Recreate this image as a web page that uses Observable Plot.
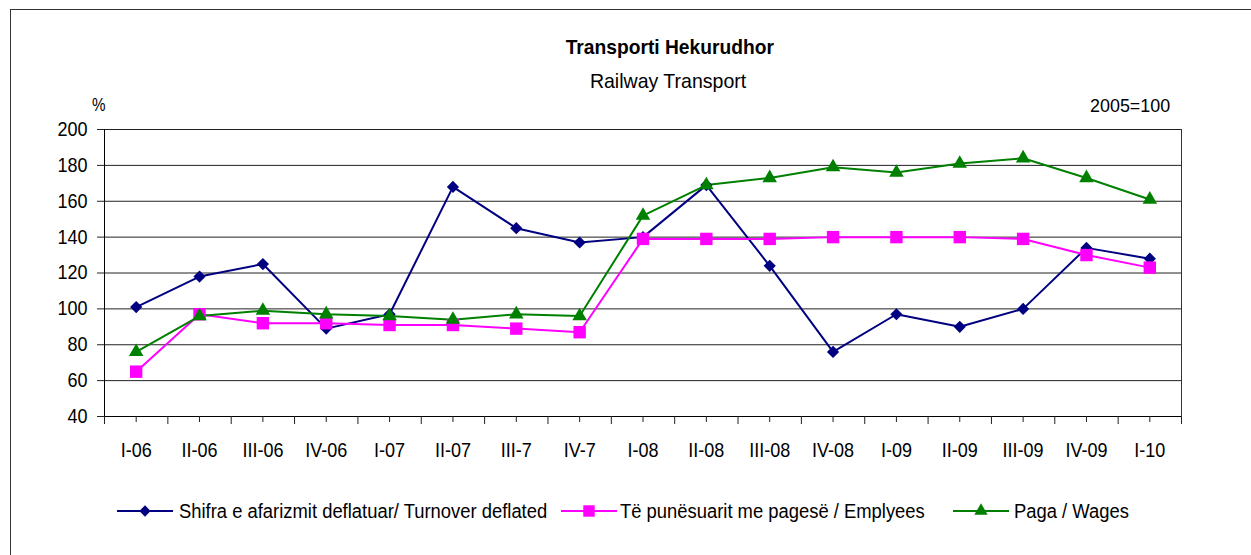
<!DOCTYPE html>
<html><head><meta charset="utf-8">
<script src="https://cdn.jsdelivr.net/npm/d3@7"></script>
<script src="https://cdn.jsdelivr.net/npm/@observablehq/plot@0.6"></script>
<style>
html,body{margin:0;padding:0;background:#fff;}
#wrap{position:relative;width:1251px;height:555px;overflow:hidden;background:#fff;color:#000;
  font-family:"Liberation Sans",Arial,sans-serif;}
#frame{position:absolute;left:10px;top:9px;right:-5px;bottom:-5px;border-top:1px solid #333;border-left:1px solid #333;}
.t{position:absolute;white-space:nowrap;line-height:1;}
.t span{display:inline-block;}
#chart{position:absolute;left:0;top:95px;}
.sw{position:absolute;top:500px;}
.lt{position:absolute;top:500px;height:22px;line-height:22px;font-size:20px;white-space:nowrap;transform:scaleX(0.92);transform-origin:left center;}
</style></head>
<body>
<div id="wrap">
  <div id="frame"></div>
  <div class="t" style="left:0;width:1339px;text-align:center;top:36px;font-size:21px;font-weight:bold;"><span style="transform:scaleX(0.915);">Transporti Hekurudhor</span></div>
  <div class="t" style="left:0;width:1336px;text-align:center;top:70px;font-size:21px;"><span style="transform:scaleX(0.93);">Railway Transport</span></div>
  <div class="t" style="left:92px;top:95px;font-size:19px;"><span style="transform:scaleX(0.8);transform-origin:left center;">%</span></div>
  <div class="t" style="right:81px;top:96px;font-size:19px;"><span style="transform:scaleX(0.94);transform-origin:right center;">2005=100</span></div>
  <div id="chart"></div>
  <div id="legend"></div>
</div>
<script>
const categories = ["I-06","II-06","III-06","IV-06","I-07","II-07","III-7","IV-7","I-08","II-08","III-08","IV-08","I-09","II-09","III-09","IV-09","I-10"];
const seriesNames = ["Shifra e afarizmit deflatuar/ Turnover deflated","Të punësuarit me pagesë / Emplyees","Paga / Wages"];
const turnover  = [101,118,125,89,97,168,145,137,140,169,124,76,97,90,100,134,128];
const employees = [65,97,92,92,91,91,89,87,139,139,139,140,140,140,139,130,123];
const wages     = [76,96,99,97,96,94,97,96,152,169,173,179,176,181,184,173,161];
const yTicks = [40,60,80,100,120,140,160,180,200];

const seriesValues = [turnover, employees, wages];
const colors = ["#000080","#ff00ff","#008000"];
const symbols = ["diamond2","square","triangle"];
const radii = [5.5, 7, 5.4];
const d3sym = {diamond2: d3.symbolDiamond2, square: d3.symbolSquare, triangle: d3.symbolTriangle};

const rows = [];
seriesNames.forEach((s,k) => seriesValues[k].forEach((v,i) => rows.push({series:s, i, value:v})));
const idx = d3.range(categories.length);
const bounds = d3.range(categories.length + 1).map(i => i - 0.5);
const font = '"Liberation Sans",Arial,sans-serif';

const chart = Plot.plot({
  width: 1251, height: 395,
  marginLeft: 104, marginRight: 70, marginTop: 34, marginBottom: 74,
  style: {fontFamily: font, fontSize: "20px", color: "#000", background: "transparent", overflow: "visible"},
  x: {type: "linear", domain: [-0.5, categories.length - 0.5]},
  y: {domain: [40, 200]},
  marks: [
    Plot.gridY(yTicks, {stroke: "#222", strokeOpacity: 1}),
    Plot.axisY(yTicks, {tickSize: 7, tickPadding: 10, stroke: "#222", label: null}),
    Plot.ruleX([-0.5], {stroke: "#000"}),
    Plot.ruleX([categories.length - 0.5], {stroke: "#333"}),
    Plot.ruleY([40], {stroke: "#000"}),
    Plot.axisX(bounds, {tickSize: 8, tickFormat: () => "", label: null, stroke: "#222"}),
    Plot.axisX(idx, {tickSize: 6, tickPadding: 20, tickFormat: i => categories[i], label: null, stroke: "#222"}),
    ...seriesNames.map((s,k) => Plot.line(rows.filter(d => d.series === s), {x: "i", y: "value", stroke: colors[k], strokeWidth: 2})),
    ...seriesNames.map((s,k) => Plot.dot(rows.filter(d => d.series === s), {x: "i", y: "value", symbol: symbols[k], fill: colors[k], stroke: "none", r: radii[k]}))
  ]
});
document.getElementById("chart").appendChild(chart);
// condense axis labels (narrow Arial look of the original)
chart.querySelectorAll("text").forEach(t => {
  const len = t.getComputedTextLength();
  if (len > 0) {
    t.setAttribute("textLength", (len * 0.9).toFixed(2));
    t.setAttribute("lengthAdjust", "spacingAndGlyphs");
  }
});

// legend
const swX = [117, 561, 953];
const txX = [179, 620, 1014];
const legend = document.getElementById("legend");
seriesNames.forEach((s,k) => {
  const w = 56, h = 22;
  const svg = d3.create("svg").attr("class", "sw").attr("width", w).attr("height", h).style("left", swX[k] + "px");
  svg.append("line").attr("x1", 0).attr("x2", w).attr("y1", h/2).attr("y2", h/2).attr("stroke", colors[k]).attr("stroke-width", 2);
  const size = Math.PI * radii[k] * radii[k] * 0.85;
  svg.append("path").attr("transform", `translate(${w/2},${h/2})`).attr("d", d3.symbol(d3sym[symbols[k]], size)()).attr("fill", colors[k]);
  legend.appendChild(svg.node());
  const span = document.createElement("div");
  span.className = "lt";
  span.style.left = txX[k] + "px";
  span.textContent = s;
  legend.appendChild(span);
});
</script>
</body></html>
